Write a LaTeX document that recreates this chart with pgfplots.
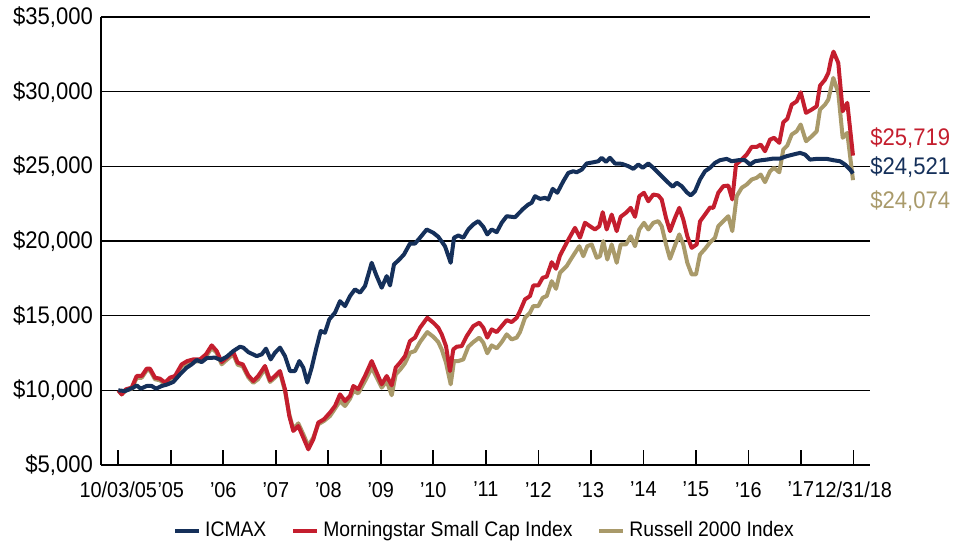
\documentclass[border=0pt]{standalone}
\usepackage{fontspec}
\setmainfont{Liberation Sans}[FakeStretch=0.92]
\usepackage{pgfplots}
\pgfplotsset{compat=1.18}
\definecolor{cnavy}{HTML}{15305A}
\definecolor{cred}{HTML}{C41E2E}
\definecolor{ctan}{HTML}{A99A6A}
\begin{document}
\begin{tikzpicture}
\begin{axis}[
 scale only axis, width=384.5pt, height=224pt,
 xmin=101, xmax=870, ymin=5000, ymax=35000,
 scaled y ticks=false, scaled x ticks=false,
 axis lines*=left,
 axis line style={black, line width=1pt},
 xtick={118.3,170.8,223.3,275.8,328.3,380.8,433.3,485.8,538.3,590.8,643.3,695.8,748.3,800.8,853.3},
 xticklabels={10/03/05,’05,’06,’07,’08,’09,’10,’11,’12,’13,’14,’15,’16,’17,12/31/18},
 xtick align=inside, major tick length=7.5pt,
 xtick style={black, line width=0.8pt},
 ytick={5000,10000,15000,20000,25000,30000,35000},
 yticklabels={{\$5,000},{\$10,000},{\$15,000},{\$20,000},{\$25,000},{\$30,000},{\$35,000}},
 ytick style={draw=none},
 ymajorgrids, grid style={black, line width=0.75pt},
 xticklabel style={font=\fontsize{10.8}{12}\selectfont, yshift=-5pt},
 yticklabel style={font=\fontsize{12}{14}\selectfont, xshift=-0.5pt},
 legend style={at={(axis description cs:0.5,-0.147)}, anchor=center, draw=none, fill=none,
   legend columns=3, font=\fontsize{10.5}{12}\selectfont,
   /tikz/every even column/.append style={column sep=10.5pt}},
 legend image code/.code={\draw[#1, line width=2pt] (0pt,0pt) -- (12pt,0pt);},
 clip=false,
]
\addlegendimage{cnavy}\addlegendentry{ICMAX}
\addlegendimage{cred}\addlegendentry{Morningstar Small Cap Index}
\addlegendimage{ctan}\addlegendentry{Russell 2000 Index}

% Russell 2000
\addplot[ctan, line width=2pt, line join=round, forget plot] coordinates {
(118.3,10000)(121.7,9730)(126,10000)(131.7,10100)(136.7,10840)(141.7,10840)(146.7,11340)(150,11340)(155,10740)(160,10670)(165,10400)(170,10740)(175,10840)(181.7,11610)(187.3,11840)(193.3,11940)(200,11940)(206,12270)(211.7,12840)(216.7,12510)(221.7,11740)(226.7,12040)(233.3,12410)(237.7,11710)(242.7,11610)(248.3,10870)(253.3,10500)(258,10740)(265,11450)(270,10560)(275,10850)(280,11180)(285,9950)(289.3,8390)(293.3,7390)(298.3,7790)(303.3,7060)(308.3,6270)(313.3,6840)(318.3,7730)(324,7950)(330,8280)(335,8780)(340,9280)(345,8950)(350,9440)(353.3,9950)(358.3,9800)(365,10620)(371.7,11520)(376.7,10850)(381.7,10180)(386.7,10620)(391.7,9670)(395.7,11070)(400,11370)(405,11810)(410,12520)(415,12630)(420,13230)(427.3,13900)(433.3,13590)(438.3,13230)(441.7,12740)(446,11850)(450.7,10400)(454,11960)(458.3,11960)(463.3,12070)(468.3,12920)(473.3,13230)(479.3,13530)(483.3,13190)(487.3,12480)(491.7,13010)(496.7,12810)(501.7,13230)(506.7,13750)(511.7,13410)(516.7,13530)(520,13900)(525,14860)(530,15200)(533.3,15640)(538.3,15640)(542.7,16200)(546.7,16310)(551.7,17310)(556,16800)(560,17870)(566.7,18320)(570.7,18760)(575,19210)(579.3,19650)(583.3,18980)(587.3,19650)(591.7,19770)(596.7,18880)(600,18980)(603.3,19990)(607.3,18760)(611.7,19770)(616.7,18540)(620.7,19770)(626,19770)(630.7,20320)(635,19650)(639.3,20770)(644,21220)(648.3,20770)(653.3,21220)(658.3,21330)(661.7,20990)(666,19770)(670,18810)(675,19700)(679.3,20440)(683.3,19770)(687.3,18540)(691.7,17760)(696,17760)(700,19100)(705,19470)(710,19900)(715,20220)(718.3,20990)(723.3,21330)(728.3,21660)(732.3,20660)(736.7,23000)(741.7,23560)(746.7,23780)(751.7,24120)(756.7,24230)(760.7,24450)(765,23940)(770,24670)(774,24900)(779.3,24600)(783.3,26120)(787.3,26390)(791.7,27130)(796.7,27350)(800.7,27800)(806,26680)(811.7,27010)(816.7,27350)(820,28800)(825,29130)(828.3,29470)(833.3,30920)(838.3,29920)(842.7,26910)(847.3,27240)(853,24074)
};
% Morningstar Small Cap
\addplot[cred, line width=2pt, line join=round, forget plot] coordinates {
(118.3,10000)(121.7,9730)(126,10070)(131.7,10180)(136.7,10960)(141.7,10960)(146.7,11450)(150,11450)(155,10850)(160,10780)(165,10520)(170,10850)(175,10960)(181.7,11740)(187.3,11960)(193.3,12070)(200,12070)(206,12410)(211.7,13010)(216.7,12630)(221.7,11890)(226.7,12190)(233.3,12560)(237.7,11850)(242.7,11740)(248.3,11000)(253.3,10620)(258,10940)(265,11630)(270,10670)(275,10960)(280,11290)(285,10070)(289.3,8280)(293.3,7280)(298.3,7610)(303.3,6840)(308.3,6050)(313.3,6720)(318.3,7840)(324,8060)(330,8510)(335,8950)(340,9730)(345,9280)(350,9620)(353.3,10290)(358.3,10070)(365,10960)(371.7,11960)(376.7,11180)(381.7,10400)(386.7,10960)(391.7,10330)(395.7,11520)(400,11850)(405,12290)(410,13300)(415,13530)(420,14190)(427.3,14860)(433.3,14530)(438.3,14190)(441.7,13750)(446,12960)(450,11290)(453.3,12740)(456.7,12920)(461.7,12960)(466.7,13630)(473.3,14300)(479.3,14530)(483.3,14190)(487.3,13530)(491.7,14080)(496.7,13900)(501.7,14300)(506.7,14700)(511.7,14570)(516.7,14860)(520,15310)(525,16090)(530,16310)(533.3,17020)(538.3,17020)(542.7,17540)(546.7,17610)(551.7,18580)(556,18140)(560,19030)(566.7,19880)(570.7,20370)(575,20880)(580,20220)(585,21220)(590,20990)(595,20770)(599.3,20990)(602.7,21930)(606.7,20770)(611.7,21770)(616.7,20660)(620.7,21620)(626,21890)(630.7,22220)(635,21620)(639.3,23000)(644,23230)(648.3,22660)(653.3,23110)(658.3,23050)(661.7,22780)(666,21550)(670,20660)(675,21550)(679.3,22220)(683.3,21440)(687.3,20320)(691.7,19540)(696.7,19770)(700,21310)(705,21770)(710,22240)(713.3,22220)(718.3,23230)(723.3,23670)(728.3,23710)(732.3,22780)(736,25120)(741.7,25450)(746.7,25790)(751.7,26300)(756.7,26300)(760.7,26460)(765,26010)(770,26790)(774,26910)(779.3,26570)(783.3,27950)(787.3,28180)(791.7,29130)(796.7,29350)(800.7,29960)(806,28580)(811.7,28800)(816.7,29020)(820,30400)(825,30800)(828.3,31250)(831,32140)(833.5,32680)(838.3,31920)(842.7,28690)(847.3,29250)(853,25719)
};
% ICMAX
\addplot[cnavy, line width=2pt, line join=round, forget plot] coordinates {
(118.3,10000)(125,9950)(133.3,10180)(136.7,10330)(140.7,10110)(146.7,10290)(151.7,10290)(156,10110)(161.7,10290)(166.7,10380)(173.3,10560)(180,11070)(186.7,11520)(191.7,11740)(196.7,12030)(201.7,11890)(206.7,12160)(215,12190)(220.7,12030)(226.7,12250)(233.3,12630)(240,12920)(243.3,12860)(248.3,12560)(256.7,12290)(261.7,12410)(266,12790)(270.7,12070)(275,12520)(280,12860)(285,12290)(290,11290)(295,11290)(299.3,11960)(303.3,11520)(307.3,10520)(311.7,11520)(316,12740)(320.7,13970)(325,13860)(329.3,14750)(335,15200)(340,15970)(345,15640)(350,16310)(355,16760)(360,16540)(365,16980)(371.7,18540)(376,17760)(381.7,16870)(386.7,17650)(390,17020)(394,18430)(399.3,18760)(404,19100)(410,19830)(415,19830)(420,20220)(426.7,20770)(433.3,20550)(438.3,20280)(445,19650)(450.7,18540)(454,20220)(458.3,20370)(463.3,20220)(468.3,20770)(473.3,21110)(478.3,21330)(483.3,20950)(487.3,20440)(491.7,20770)(496.7,20590)(501.7,21220)(506.7,21660)(515,21590)(523.3,22160)(528.3,22440)(531.7,22560)(535,23000)(540,22820)(545,22890)(548.3,22780)(552.7,23490)(557.3,23230)(563.3,24000)(568.3,24560)(573.3,24670)(576.7,24600)(581.7,24780)(586.7,25190)(593.3,25270)(598.3,25340)(601.7,25570)(606,25300)(610,25570)(615,25190)(621.7,25170)(628.3,25010)(633.3,24830)(638.3,25120)(642.7,24900)(648.3,25190)(653.3,24900)(660,24450)(666.7,24000)(672.7,23630)(676.7,23900)(681.7,23670)(686.7,23270)(690.7,23050)(695,23330)(700,24120)(705,24670)(710,24900)(715,25230)(720,25410)(726.7,25500)(731.7,25340)(738.3,25410)(745,25410)(750,25120)(755,25340)(761.7,25410)(766.7,25450)(773.3,25520)(780,25520)(786.7,25680)(793.3,25790)(800,25900)(805,25790)(810,25450)(816.7,25500)(826.7,25500)(833.3,25410)(840,25340)(845,25120)(850,24790)(853,24521)
};
\node[anchor=west, text=cred, font=\fontsize{12}{14}\selectfont, inner sep=0pt] at (axis cs:870,26860) {\$25,719};
\node[anchor=west, text=cnavy, font=\fontsize{12}{14}\selectfont, inner sep=0pt] at (axis cs:870,24920) {\$24,521};
\node[anchor=west, text=ctan, font=\fontsize{12}{14}\selectfont, inner sep=0pt] at (axis cs:870,22640) {\$24,074};
\end{axis}
\pgfresetboundingbox
\path[use as bounding box] ([xshift=-50.5pt,yshift=-39.5pt]current axis.south west) rectangle ++(477pt,272pt);
\end{tikzpicture}
\end{document}
